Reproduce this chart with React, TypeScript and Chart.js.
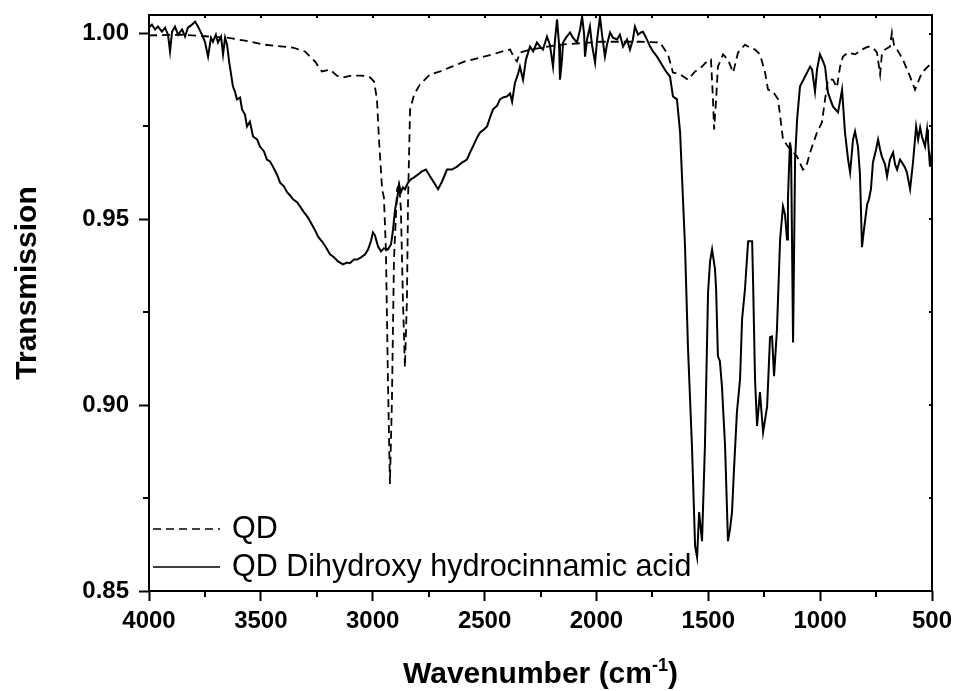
import React, { useEffect, useRef } from "react";
import { Chart, registerables } from "chart.js";

Chart.register(...registerables);

// ---------- data ----------
const seriesLabels = ["QD", "QD Dihydroxy hydrocinnamic acid"];

const qdWavenumber = [
  4000, 3861, 3651, 3571, 3481, 3356, 3303, 3258, 3227, 3191,
  3160, 3133, 3093, 3048, 3012, 2994, 2981, 2972, 2958, 2950,
  2941, 2932, 2923, 2914, 2905, 2891, 2882, 2874, 2865, 2856,
  2847, 2842, 2833, 2815, 2789, 2744, 2699, 2655, 2588, 2520,
  2453, 2409, 2386, 2368, 2355, 2342, 2297, 2163, 1984, 1805,
  1716, 1680, 1658, 1626, 1591, 1559, 1528, 1506, 1488, 1479,
  1474, 1465, 1457, 1434, 1412, 1389, 1367, 1336, 1313, 1291,
  1269, 1246, 1233, 1211, 1188, 1166, 1144, 1103, 1077, 1063,
  1045, 1014, 992, 978, 965, 943, 925, 911, 898, 875,
  844, 813, 786, 764, 746, 732, 724, 710, 688, 679,
  670, 656, 630, 598, 576, 545, 509, 500,
];
const qdTransmission = [
  0.9995, 0.9997, 0.9989, 0.9981, 0.997, 0.9962, 0.9952, 0.9925, 0.9898, 0.9903,
  0.9887, 0.9882, 0.9887, 0.9887, 0.9882, 0.9871, 0.9823, 0.9715, 0.9581, 0.9559,
  0.9419, 0.907, 0.8788, 0.9016, 0.9392, 0.9581, 0.9594, 0.9527, 0.9285, 0.9102,
  0.9285, 0.9554, 0.9796, 0.9836, 0.9863, 0.989, 0.9898, 0.9909, 0.9925, 0.9935,
  0.9946, 0.9954, 0.9957, 0.9935, 0.9925, 0.9949, 0.9957, 0.997, 0.9978, 0.9978,
  0.9976, 0.9944, 0.9895, 0.989, 0.9876, 0.9898, 0.9911, 0.9925, 0.993, 0.9823,
  0.9742, 0.9823, 0.9911, 0.9944, 0.993, 0.9895, 0.9949, 0.997, 0.9962, 0.9957,
  0.9944, 0.9895, 0.9849, 0.9844, 0.9823, 0.9715, 0.9696, 0.9669, 0.9634, 0.964,
  0.968, 0.9734, 0.9761, 0.9823, 0.9876, 0.9876, 0.9855, 0.9911, 0.9938, 0.9949,
  0.9944, 0.9957, 0.9965, 0.9962, 0.9949, 0.989, 0.9944, 0.9957, 0.9965, 1.0003,
  0.997, 0.9957, 0.993, 0.9884, 0.9849, 0.9895, 0.9917, 0.9919,
];

const dhcaWavenumber = [
  4000, 3987, 3973, 3960, 3942, 3928, 3915, 3906, 3897, 3884,
  3870, 3852, 3839, 3826, 3808, 3794, 3781, 3763, 3750, 3736,
  3723, 3714, 3701, 3692, 3678, 3669, 3660, 3651, 3642, 3633,
  3625, 3616, 3607, 3593, 3584, 3571, 3562, 3549, 3535, 3517,
  3504, 3486, 3473, 3459, 3446, 3428, 3414, 3397, 3383, 3370,
  3356, 3338, 3325, 3307, 3293, 3280, 3267, 3253, 3245, 3227,
  3209, 3191, 3173, 3155, 3133, 3115, 3102, 3084, 3070, 3052,
  3034, 3021, 3008, 2999, 2990, 2976, 2963, 2950, 2932, 2918,
  2909, 2900, 2891, 2882, 2874, 2865, 2856, 2842, 2829, 2815,
  2797, 2780, 2762, 2744, 2726, 2708, 2690, 2668, 2646, 2623,
  2601, 2579, 2565, 2552, 2534, 2520, 2503, 2489, 2476, 2462,
  2444, 2431, 2418, 2400, 2386, 2377, 2364, 2351, 2342, 2328,
  2315, 2297, 2283, 2266, 2252, 2239, 2221, 2208, 2194, 2185,
  2176, 2167, 2163, 2154, 2149, 2136, 2118, 2105, 2087, 2073,
  2064, 2055, 2051, 2042, 2029, 2020, 2006, 1997, 1984, 1975,
  1962, 1953, 1939, 1926, 1908, 1895, 1881, 1863, 1850, 1837,
  1828, 1814, 1801, 1792, 1778, 1760, 1747, 1729, 1716, 1702,
  1689, 1671, 1658, 1640, 1626, 1617, 1604, 1591, 1573, 1559,
  1550, 1541, 1528, 1515, 1501, 1492, 1483, 1470, 1465, 1457,
  1448, 1439, 1425, 1412, 1403, 1394, 1385, 1372, 1358, 1349,
  1336, 1322, 1304, 1300, 1291, 1282, 1269, 1255, 1237, 1224,
  1215, 1206, 1193, 1179, 1166, 1157, 1148, 1144, 1135, 1130,
  1121, 1112, 1103, 1090, 1068, 1045, 1036, 1023, 1014, 1001,
  987, 978, 965, 943, 920, 902, 889, 875, 866, 853,
  844, 831, 822, 813, 804, 790, 782, 773, 764, 750,
  741, 732, 724, 710, 701, 688, 674, 665, 656, 643,
  634, 621, 612, 598, 585, 571, 562, 553, 545, 531,
  522, 518, 509, 500,
];
const dhcaTransmission = [
  1.0016, 1.0024, 1.0011, 1.0019, 1.0005, 1.0016, 0.9997, 0.9952, 1.0005, 1.0019,
  0.9997, 1.0011, 0.9992, 1.0016, 1.0024, 1.0032, 1.0019, 0.9997, 0.9978, 0.9938,
  0.9989, 0.9978, 0.9997, 0.9976, 0.9992, 0.9944, 0.9989, 0.997, 0.9925, 0.989,
  0.9858, 0.9844, 0.9823, 0.9828, 0.9796, 0.9782, 0.975, 0.9763, 0.9723, 0.9715,
  0.9696, 0.9683, 0.9661, 0.9656, 0.9642, 0.9621, 0.9599, 0.9589, 0.9573, 0.9565,
  0.9554, 0.9546, 0.9535, 0.9519, 0.9508, 0.9495, 0.9481, 0.9465, 0.9454, 0.9441,
  0.9425, 0.9406, 0.9398, 0.9387, 0.9379, 0.9384, 0.9382, 0.9392, 0.9392, 0.9398,
  0.9406, 0.9419, 0.9441, 0.9465, 0.9457, 0.9427, 0.9414, 0.9422, 0.9419, 0.9433,
  0.9473, 0.9527, 0.9554, 0.9594, 0.9573, 0.9586, 0.9581, 0.9599, 0.9608, 0.9613,
  0.9621, 0.9629, 0.9634, 0.9616, 0.9599, 0.9581, 0.9602, 0.9634, 0.9634, 0.9642,
  0.9653, 0.9661, 0.968, 0.9696, 0.972, 0.9734, 0.9742, 0.975, 0.9774, 0.9796,
  0.9806, 0.9823, 0.9828, 0.9831, 0.9839, 0.9817, 0.9868, 0.989, 0.9911, 0.9876,
  0.993, 0.9965, 0.9952, 0.9976, 0.9965, 0.9957, 0.9992, 0.997, 0.9911, 0.9984,
  1.0038, 0.997, 0.9876, 0.993, 0.9976, 0.9989, 1.0003, 0.9989, 0.9976, 1.0011,
  1.0046, 0.9997, 0.9938, 0.9984, 1.0019, 0.997, 0.9922, 0.9984, 1.0046, 0.9997,
  0.9938, 0.997, 1.0003, 0.9989, 0.9984, 0.9997, 0.9965, 0.9984, 0.9957, 0.9984,
  1.0019, 0.9997, 1.0003, 1.0005, 0.9989, 0.9965, 0.9952, 0.9938, 0.9925, 0.9911,
  0.9898, 0.9884, 0.9831, 0.9823, 0.9734, 0.9608, 0.9427, 0.9159, 0.889, 0.8621,
  0.8591, 0.8712, 0.8634, 0.889, 0.9304, 0.9387, 0.9419, 0.9366, 0.9312, 0.9132,
  0.9118, 0.9051, 0.889, 0.8634, 0.8666, 0.8712, 0.8828, 0.8981, 0.907, 0.9231,
  0.9312, 0.9441, 0.9441, 0.9339, 0.907, 0.8944, 0.9035, 0.8927, 0.8997, 0.9183,
  0.9185, 0.9078, 0.9204, 0.9446, 0.9535, 0.9513, 0.9446, 0.9554, 0.9707, 0.9688,
  0.9169, 0.9661, 0.9769, 0.9858, 0.9884, 0.9911, 0.9903, 0.9844, 0.9903, 0.9944,
  0.9925, 0.9911, 0.9841, 0.9804, 0.9788, 0.9849, 0.9734, 0.9661, 0.9626, 0.9715,
  0.9737, 0.9696, 0.9621, 0.9425, 0.9473, 0.954, 0.9554, 0.9581, 0.9653, 0.9688,
  0.9715, 0.9688, 0.9669, 0.9648, 0.9616, 0.9661, 0.968, 0.9648, 0.9634, 0.9661,
  0.9653, 0.964, 0.9626, 0.9581, 0.9653, 0.975, 0.9715, 0.9747, 0.9723, 0.9696,
  0.9742, 0.9715, 0.9642, 0.9688,
];

const xTicks = [4000, 3500, 3000, 2500, 2000, 1500, 1000, 500];
const xMinorTicks = [3750, 3250, 2750, 2250, 1750, 1250, 750];
const yTicks = [0.85, 0.9, 0.95, 1.0];
const yMinorTicks = [0.875, 0.925, 0.975];

const xTitleMain = "Wavenumber (cm";
const xTitleSup = "-1";
const xTitleEnd = ")";
const yTitle = "Transmission";

const FONT = '"Liberation Sans", Arial, Helvetica, sans-serif';

if (qdWavenumber.length !== qdTransmission.length) throw new Error("qd length mismatch " + qdWavenumber.length + " " + qdTransmission.length);
if (dhcaWavenumber.length !== dhcaTransmission.length) throw new Error("dhca length mismatch " + dhcaWavenumber.length + " " + dhcaTransmission.length);

const toPoints = (xs: number[], ys: number[]) => xs.map((x, i) => ({ x, y: ys[i] }));

const zeroPadding = (s: any) => {
  s.paddingTop = 0;
  s.paddingBottom = 0;
  s.paddingLeft = 0;
  s.paddingRight = 0;
};

const framePlugin = {
  id: "frameAndLabels",
  afterDraw(chart: any) {
    const { ctx, chartArea } = chart;
    const { left, top, right, bottom } = chartArea;
    const xs = chart.scales.x;
    const ys = chart.scales.y;
    ctx.save();
    ctx.strokeStyle = "#000";
    ctx.lineWidth = 2;
    ctx.setLineDash([]);
    ctx.strokeRect(left, top, right - left, bottom - top);

    const line = (x1: number, y1: number, x2: number, y2: number) => {
      ctx.beginPath();
      ctx.moveTo(x1, y1);
      ctx.lineTo(x2, y2);
      ctx.stroke();
    };
    // minor outward ticks
    xMinorTicks.forEach((v) => {
      const px = Math.round(xs.getPixelForValue(v));
      line(px, bottom, px, bottom + 6);
    });
    yMinorTicks.forEach((v) => {
      const py = Math.round(ys.getPixelForValue(v));
      line(left - 6, py, left, py);
    });
    // inward ticks on top and right
    [...xTicks, ...xMinorTicks].forEach((v) => {
      const px = Math.round(xs.getPixelForValue(v));
      line(px, top, px, top + 3);
    });
    [...yTicks, ...yMinorTicks].forEach((v) => {
      const py = Math.round(ys.getPixelForValue(v));
      line(right - 3, py, right, py);
    });

    // legend
    const rows = [bottom - 62, bottom - 24];
    chart.data.datasets.forEach((ds: any, i: number) => {
      ctx.lineWidth = 1.7;
      ctx.setLineDash(ds.borderDash || []);
      line(left + 4, rows[i], left + 71, rows[i]);
      ctx.setLineDash([]);
      ctx.fillStyle = "#000";
      ctx.font = `30.5px ${FONT}`;
      ctx.textAlign = "left";
      ctx.textBaseline = "middle";
      ctx.fillText(ds.label, left + 83, rows[i] + 1);
    });

    // x title with superscript
    ctx.fillStyle = "#000";
    ctx.textBaseline = "alphabetic";
    ctx.textAlign = "left";
    const mainFont = `bold 30px ${FONT}`;
    const supFont = `bold 18px ${FONT}`;
    ctx.font = mainFont;
    const wMain = ctx.measureText(xTitleMain).width;
    const wEnd = ctx.measureText(xTitleEnd).width;
    ctx.font = supFont;
    const wSup = ctx.measureText(xTitleSup).width;
    const total = wMain + wSup + wEnd;
    let sx = (left + right) / 2 - total / 2;
    const baseY = 683;
    ctx.font = mainFont;
    ctx.fillText(xTitleMain, sx, baseY);
    sx += wMain;
    ctx.font = supFont;
    ctx.fillText(xTitleSup, sx, baseY - 12);
    sx += wSup;
    ctx.font = mainFont;
    ctx.fillText(xTitleEnd, sx, baseY);

    // y title
    ctx.save();
    ctx.translate(28, 283);
    ctx.rotate(-Math.PI / 2);
    ctx.font = mainFont;
    ctx.textAlign = "center";
    ctx.textBaseline = "middle";
    ctx.fillText(yTitle, 0, 0);
    ctx.restore();

    ctx.restore();
  },
};

export default function App() {
  const ref = useRef<HTMLCanvasElement | null>(null);
  useEffect(() => {
    if (!ref.current) return;
    const chart = new Chart(ref.current, {
      type: "line",
      data: {
        datasets: [
          {
            label: seriesLabels[0],
            data: toPoints(qdWavenumber, qdTransmission),
            borderColor: "#000",
            borderWidth: 1.8,
            borderDash: [8, 5],
            pointRadius: 0,
            tension: 0,
            fill: false,
          },
          {
            label: seriesLabels[1],
            data: toPoints(dhcaWavenumber, dhcaTransmission),
            borderColor: "#000",
            borderWidth: 2,
            pointRadius: 0,
            tension: 0,
            fill: false,
          },
        ],
      },
      options: {
        animation: false,
        responsive: false,
        devicePixelRatio: 1,
        parsing: false,
        layout: { padding: { left: 0, top: 15, right: 23, bottom: 0 } },
        plugins: { legend: { display: false }, tooltip: { enabled: false } },
        scales: {
          x: {
            type: "linear",
            reverse: true,
            min: 500,
            max: 4000,
            afterBuildTicks: (s: any) => {
              s.ticks = xTicks.map((v) => ({ value: v }));
            },
            afterFit: (s: any) => {
              s.height = 100;
              zeroPadding(s);
            },
            border: { display: false },
            grid: {
              display: true,
              drawOnChartArea: false,
              drawTicks: true,
              tickLength: 10,
              tickWidth: 2,
              tickColor: "#000",
            },
            ticks: {
              color: "#000",
              font: { family: FONT, size: 24, weight: "bold" },
              padding: 6,
              maxRotation: 0,
              autoSkip: false,
              callback: (v: any) => String(v),
            },
          },
          y: {
            type: "linear",
            min: 0.85,
            max: 1.005,
            afterBuildTicks: (s: any) => {
              s.ticks = yTicks.map((v) => ({ value: v }));
            },
            afterFit: (s: any) => {
              s.width = 149;
              zeroPadding(s);
            },
            border: { display: false },
            grid: {
              display: true,
              drawOnChartArea: false,
              drawTicks: true,
              tickLength: 10,
              tickWidth: 2,
              tickColor: "#000",
            },
            ticks: {
              color: "#000",
              font: { family: FONT, size: 24, weight: "bold" },
              padding: 10,
              autoSkip: false,
              callback: (v: any) => Number(v).toFixed(2),
            },
          },
        },
      },
      plugins: [framePlugin],
    } as any);
    return () => chart.destroy();
  }, []);

  return (
    <div style={{ position: "absolute", left: 0, top: 0, width: 955, height: 691, background: "#fff" }}>
      <canvas ref={ref} width={955} height={691} style={{ display: "block", width: 955, height: 691 }} />
    </div>
  );
}
